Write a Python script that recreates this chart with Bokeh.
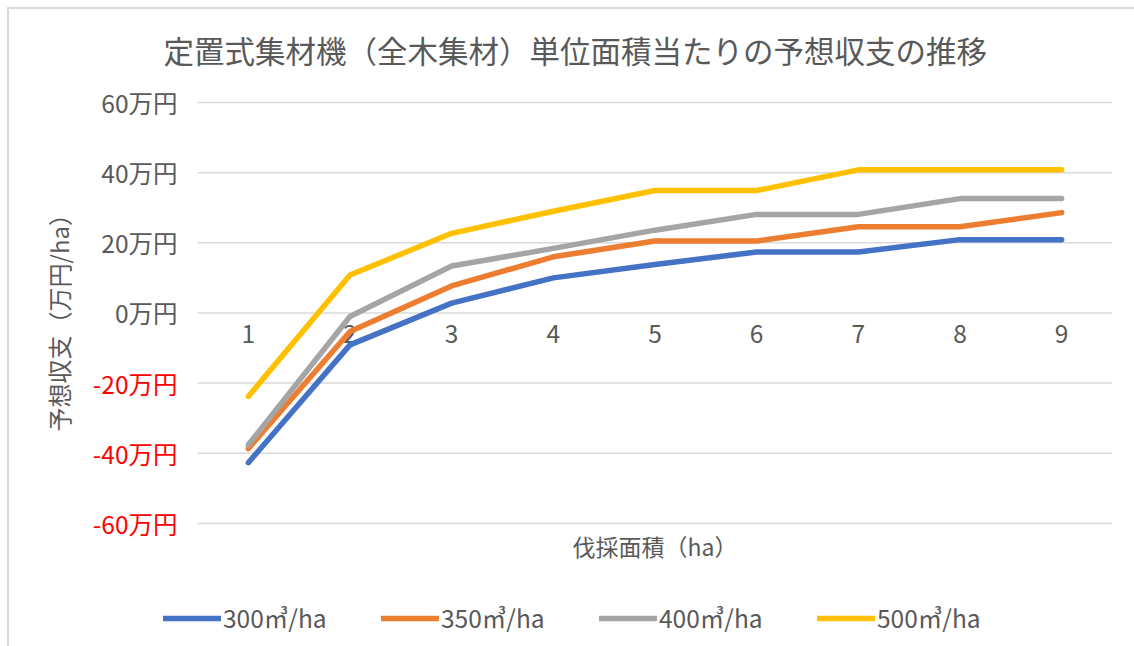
from bokeh.plotting import figure
from bokeh.models import Range1d, Legend, LegendItem, Title, InlineStyleSheet
from bokeh.embed import file_html
from bokeh.resources import INLINE
from bokeh.core.properties import value

# ---- data ----
x_vals = [1, 2, 3, 4, 5, 6, 7, 8, 9]
s300 = [-42.7, -9.1, 2.8, 10.0, 13.8, 17.4, 17.4, 20.9, 20.9]
s350 = [-38.7, -5.3, 7.7, 16.0, 20.5, 20.5, 24.6, 24.6, 28.6]
s400 = [-37.6, -1.0, 13.4, 18.4, 23.6, 28.1, 28.1, 32.6, 32.6]
s500 = [-23.8, 10.8, 22.7, 29.0, 34.9, 34.9, 40.8, 40.8, 40.8]
series_names = ["300㎥/ha", "350㎥/ha", "400㎥/ha", "500㎥/ha"]
y_ticks = [-60, -40, -20, 0, 20, 40, 60]
x_tick_labels = [str(v) for v in x_vals]
title_text = "定置式集材機（全木集材）単位面積当たりの予想収支の推移"
y_label = "予想収支（万円/ha）"
x_label = "伐採面積（ha）"

FONT = "Noto Sans CJK JP"
TXT = "#595959"
NEG = "#FF0000"
colors = ["#4472C4", "#ED7D31", "#A5A5A5", "#FFC000"]

css = InlineStyleSheet(css="""
:host { position: relative; }
:host::after {
  content: ""; position: absolute; left: 7px; top: 7px; right: 0; bottom: 0;
  border-top: 2px solid #D9D9D9; border-left: 2px solid #D9D9D9;
  pointer-events: none; z-index: 100;
}
""")

p = figure(width=1134, height=646, output_backend="svg", toolbar_location=None,
           x_range=Range1d(-0.6705, 9.5), y_range=Range1d(-95.1, 62.85),
           x_axis_type=None, y_axis_type=None,
           min_border_left=78, min_border_right=22, min_border_top=92, min_border_bottom=0,
           stylesheets=[css])
p.outline_line_color = None
p.background_fill_color = "white"
p.border_fill_color = "white"

# main title
p.add_layout(Title(text=title_text, align="left", offset=85, standoff=41,
                   text_font=FONT, text_font_size="30.5px", text_font_style="normal",
                   text_color=TXT), "above")
# y-axis title
p.add_layout(Title(text=y_label, align="left", offset=215, standoff=6,
                   text_font=FONT, text_font_size="24px", text_font_style="normal",
                   text_color=TXT), "left")

# horizontal gridlines across the category span
x_lo = x_vals[0] - 0.5
x_hi = x_vals[-1] + 0.5
p.segment(x0=[x_lo] * len(y_ticks), x1=[x_hi] * len(y_ticks), y0=y_ticks, y1=y_ticks,
          line_color="#D9D9D9", line_width=1.5)

def fmt(v):
    return f"{v}万円"

pos = [v for v in y_ticks if v >= 0]
neg = [v for v in y_ticks if v < 0]
p.text(x=[x_lo] * len(pos), y=pos, text=[fmt(v) for v in pos], x_offset=-20,
       text_align="right", text_baseline="middle", text_color=TXT,
       text_font=value(FONT), text_font_size="24.5px")
p.text(x=[x_lo] * len(neg), y=neg, text=[fmt(v) for v in neg], x_offset=-20,
       text_align="right", text_baseline="middle", text_color=NEG,
       text_font=value(FONT), text_font_size="24.5px")

# category labels sitting on the zero line
p.text(x=x_vals, y=[0] * len(x_vals), text=x_tick_labels, y_offset=12,
       text_align="center", text_baseline="top", text_color=TXT,
       text_font=value(FONT), text_font_size="24.5px")

# x-axis title under the plot area
p.text(x=[(x_vals[0] + x_vals[-1]) / 2], y=[y_ticks[0]], text=[x_label], y_offset=23,
       text_align="center", text_baseline="middle", text_color=TXT,
       text_font=value(FONT), text_font_size="23px")

items = []
for name, ys, c in zip(series_names, [s300, s350, s400, s500], colors):
    r = p.line(x_vals, ys, line_color=c, line_width=5.5, line_cap="round", line_join="round")
    items.append(LegendItem(label=name, renderers=[r]))

legend = Legend(items=items, orientation="horizontal", location=(85, 11),
                label_text_font=FONT, label_text_font_size="24.5px", label_text_color=TXT,
                glyph_width=58, glyph_height=20, label_standoff=2, label_width=123, spacing=35,
                border_line_color=None, background_fill_alpha=0, padding=0, margin=0)
p.add_layout(legend, "center")

open("out.html", "w").write(file_html(p, INLINE))
